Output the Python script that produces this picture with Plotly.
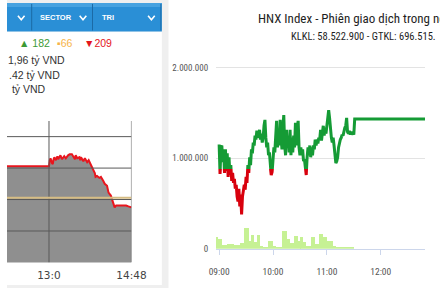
import plotly.graph_objects as go
import pandas as pd

W, H = 440, 293
DAY = "2024-01-02 "

# ---------------- left panel: VN-Index, afternoon session ----------------
vn_time = ["12:00", "13:00", "13:01", "13:02", "13:04", "13:05", "13:06", "13:07", "13:09", "13:10",
           "13:11", "13:12", "13:14", "13:15", "13:16", "13:17", "13:20", "13:22", "13:25", "13:27",
           "13:30", "13:32", "13:34", "13:35", "13:37", "13:40", "13:41", "13:42", "13:45", "13:47",
           "13:50", "13:52", "13:55", "13:57", "14:00", "14:01", "14:03", "14:06", "14:08", "14:11",
           "14:13", "14:16", "14:17", "14:18", "14:21", "14:22", "14:24", "14:26", "14:28", "14:32",
           "14:37", "14:41", "14:44", "14:48"]
vn_value = [1220.31, 1220.31, 1221.25, 1221.56, 1220.78, 1220.63, 1221.41, 1221.72, 1221.25, 1221.56,
            1221.88, 1221.41, 1221.72, 1222.03, 1221.72, 1221.41, 1221.88, 1221.56, 1222.03, 1222.19,
            1222.19, 1221.88, 1221.41, 1222.03, 1221.56, 1221.72, 1221.25, 1221.72, 1221.09, 1221.56,
            1220.94, 1221.25, 1220.47, 1219.84, 1219.22, 1218.59, 1218.75, 1218.44, 1218.59, 1217.97,
            1217.50, 1217.19, 1216.72, 1216.09, 1215.63, 1215.16, 1214.53, 1213.75, 1214.06, 1214.06,
            1214.06, 1214.06, 1213.91, 1213.75]
vn_reference = 1215.3
vn_grid_values = [1205, 1210, 1215, 1220, 1225]
vn_tick_times = ["13:00", "14:48"]
vn_tick_labels = ["13:0", "14:48"]
vn_x_range = [-55, 108]          # minutes from 13:00
vn_y_range = [1205, 1227.5]

menu_labels = ["SECTOR", "TRI"]
advances, unchanged, declines = 182, 66, 209
value_lines = ["1,96 tỷ VND", ".42 tỷ VND", " tỷ VND"]

# ---------------- right panel: HNX Index intraday ----------------
hnx_title = "HNX Index - Phiên giao dịch trong ngày"
hnx_subtitle = "KLKL: 58.522.900 - GTKL: 696.515."
hnx_start = "09:00"
hnx_value_k = [1152, 826, 1120, 1141, 957, 1098, 837, 1098, 859, 1054,
               793, 1011, 815, 924, 750, 837, 728, 772, 663, 707,
               576, 522, 663, 467, 598, 380, 576, 663, 707, 652,
               793, 728, 924, 837, 1011, 924, 1098, 1054, 1174, 1141,
               1250, 1207, 1304, 1228, 1250, 1315, 1207, 1272, 1174, 1228,
               1359, 1424, 1228, 1120, 1174, 1033, 1065, 902, 815, 848,
               989, 1120, 1065, 1337, 1413, 1120, 1283, 1141, 1424, 1228,
               1098, 1337, 1478, 1141, 1033, 1315, 1120, 1228, 1065, 1315,
               1033, 1228, 1065, 1250, 1120, 1391, 1141, 1337, 1413, 1120,
               1033, 1120, 1033, 1098, 967, 989, 902, 815, 1011, 1120,
               1033, 1141, 1011, 1120, 1033, 1141, 1098, 1207, 1141, 1207,
               1163, 1228, 1207, 1315, 1196, 1293, 1359, 1250, 1337, 1272,
               1391, 1424, 1533, 1446, 1315, 1228, 1174, 1228, 1141, 1011,
               946, 967, 1011, 1120, 1174, 1207, 1228, 1261, 1250, 1315,
               1337, 1359, 1446, 1293, 1272, 1304, 1261, 1293, 1261, 1283,
               1261, 1435]
hnx_last_time = "12:50"
hnx_reference_k = 880
vol_bounds = ["08:57", "08:59", "09:03", "09:09", "09:17", "09:23", "09:28", "09:33", "09:36", "09:39",
              "09:42", "09:46", "09:49", "09:54", "10:00", "10:03", "10:10", "10:16", "10:19", "10:23",
              "10:28", "10:31", "10:33", "10:37", "10:42", "10:47", "10:51", "10:56", "11:00", "11:07",
              "11:10", "11:19", "11:24", "11:30"]
vol_k = [130, 109, 36, 54, 36, 62, 228, 87, 152, 76, 152, 33, 22, 87, 33, 22, 196, 109, 65, 141,
         87, 130, 76, 33, 130, 54, 163, 130, 87, 33, 22, 18, 8]
hnx_ticks = ["09:00", "10:00", "11:00", "12:00"]
hnx_y_ticks = [0, 1000, 2000]
hnx_y_labels = ["0", "1.000.000", "2.000.000"]
hnx_x_range = ["08:56:30", "12:49:18"]
hnx_y_max = 2097.8

# ---------------- helpers ----------------
def P(x):
    return x / W

def Q(y):
    return 1 - y / H

def minutes_from_13(t):
    h, m = t.split(":")
    return int(h) * 60 + int(m) - 780

NARROW = "Liberation Sans Narrow, Arial Narrow, Roboto Condensed, DejaVu Sans Condensed, Roboto, sans-serif"
ARIAL = "Liberation Sans, Arial, sans-serif"

fig = go.Figure()

# left: VN index line with gray fill
vx = [minutes_from_13(t) for t in vn_time]
fig.add_trace(go.Scatter(x=vx, y=vn_value, mode="lines", fill="tozeroy",
                         fillcolor="#8f8f8f", line=dict(color="#e8161e", width=2),
                         xaxis="x", yaxis="y", hoverinfo="skip", showlegend=False))

# right: volume bars
vb = pd.to_datetime([DAY + t for t in vol_bounds])
centers = [vb[i] + (vb[i + 1] - vb[i]) / 2 for i in range(len(vol_k))]
widths = [(vb[i + 1] - vb[i]).total_seconds() * 1000 for i in range(len(vol_k))]
fig.add_trace(go.Bar(x=centers, y=vol_k, width=widths, marker=dict(color="#c6f194", line=dict(width=0)),
                     xaxis="x2", yaxis="y2", hoverinfo="skip", showlegend=False))

# right: HNX line, green above reference, red below (clipped by sub-axes)
ht = list(pd.date_range(DAY + hnx_start, periods=len(hnx_value_k), freq="1min"))
ht.append(pd.Timestamp(DAY + hnx_last_time))
hv = hnx_value_k + [hnx_value_k[-1]]
fig.add_trace(go.Scatter(x=ht, y=hv, mode="lines", line=dict(color="#d8000d", width=3),
                         xaxis="x2", yaxis="y4", hoverinfo="skip", showlegend=False))
fig.add_trace(go.Scatter(x=ht, y=hv, mode="lines", line=dict(color="#159b35", width=3),
                         xaxis="x2", yaxis="y3", hoverinfo="skip", showlegend=False))

# domains
r_bot, r_top = Q(253), Q(60)
ref_p = r_bot + hnx_reference_k / hnx_y_max * (r_top - r_bot)
l_bot, l_top = Q(267), Q(123)
l_right = P(131)

shapes = []
# left panel background
shapes.append(dict(type="rect", xref="paper", yref="paper", x0=0, x1=P(170), y0=0, y1=1,
                   fillcolor="#efefef", line=dict(width=0), layer="below"))
shapes.append(dict(type="rect", xref="paper", yref="paper", x0=0, x1=P(163), y0=Q(290), y1=Q(32),
                   fillcolor="#ffffff", line=dict(width=0), layer="below"))
shapes.append(dict(type="rect", xref="paper", yref="paper", x0=0, x1=P(163), y0=Q(32), y1=Q(3),
                   fillcolor="#2a8fd6", line=dict(width=0), layer="below"))
shapes.append(dict(type="rect", xref="paper", yref="paper", x0=0, x1=P(163), y0=Q(7), y1=Q(3),
                   fillcolor="#46a2e0", line=dict(width=0), layer="below"))
for sx in [26, 90, 162]:
    shapes.append(dict(type="line", xref="paper", yref="paper", x0=P(sx), x1=P(sx), y0=Q(31), y1=Q(4),
                       line=dict(color="#1b6aa6", width=1), layer="below"))
for cx in [15, 80, 152]:
    shapes.append(dict(type="path", xref="paper", yref="paper",
                       path=f"M {P(cx-3.5)},{Q(16)} L {P(cx)},{Q(20)} L {P(cx+3.5)},{Q(16)}",
                       line=dict(color="#ffffff", width=1.6), layer="above"))
# left chart grid (above the fill)
for g in vn_grid_values[1:]:
    shapes.append(dict(type="line", xref="x", yref="y", x0=vn_x_range[0], x1=vn_x_range[1], y0=g, y1=g,
                       line=dict(color="#5a5a5a", width=1), layer="above"))
for t in vn_tick_times:
    m = minutes_from_13(t)
    shapes.append(dict(type="line", xref="x", yref="y", x0=m, x1=m, y0=vn_y_range[0], y1=vn_y_range[1],
                       line=dict(color="#5a5a5a", width=1), layer="above"))
shapes.append(dict(type="line", xref="x", yref="y", x0=vn_x_range[0], x1=vn_x_range[1],
                   y0=vn_reference, y1=vn_reference, line=dict(color="#d6bd84", width=2), layer="above"))

annotations = []
def txt(x, y, s, size, color, family=ARIAL, anchor="left"):
    annotations.append(dict(x=P(x), y=Q(y), xref="paper", yref="paper", text=s, showarrow=False,
                            xanchor=anchor, yanchor="middle", font=dict(size=size, color=color, family=family)))

txt(33, 18, f"<b>{menu_labels[0]}</b>", 7.5, "#ffffff")
txt(98, 18, f"<b>{menu_labels[1]}</b>", 7.5, "#ffffff")
txt(11, 44, f"▲ {advances}", 10.5, "#3c9a34")
txt(51, 44, f"▪{unchanged}", 10.5, "#f6b44a")
txt(79, 44, f"▼{declines}", 10.5, "#e4161c")
txt(-1, 61, value_lines[0], 10.5, "#333333")
txt(0, 76, value_lines[1], 10.5, "#333333")
txt(0, 91, value_lines[2], 10.5, "#333333")
txt(262, 19, hnx_title, 13, "#1e1e1e", NARROW)
txt(297, 37, hnx_subtitle, 10.5, "#1e1e1e", NARROW)

fig.update_layout(
    width=W, height=H, margin=dict(l=0, r=0, t=0, b=0),
    paper_bgcolor="#ffffff", plot_bgcolor="rgba(0,0,0,0)",
    showlegend=False, bargap=0,
    shapes=shapes, annotations=annotations,
    xaxis=dict(domain=[0, l_right], range=vn_x_range, anchor="y",
               tickmode="array", tickvals=[minutes_from_13(t) for t in vn_tick_times], ticktext=vn_tick_labels,
               showgrid=False, zeroline=False, showline=False, ticks="outside", ticklen=3,
               tickcolor="rgba(0,0,0,0)", tickfont=dict(family="DejaVu Sans", size=10.5, color="#444444")),
    yaxis=dict(domain=[l_bot, l_top], range=vn_y_range, anchor="x", showticklabels=False,
               showgrid=False, zeroline=False, showline=False, ticks=""),
    xaxis2=dict(domain=[P(220), 1], type="date", anchor="y2",
                range=[DAY + hnx_x_range[0], DAY + hnx_x_range[1]],
                tickmode="array", tickvals=[DAY + t for t in hnx_ticks], ticktext=hnx_ticks,
                showgrid=False, zeroline=False, showline=True, linecolor="#ccd6eb", linewidth=1,
                ticks="outside", ticklen=5, tickcolor="#ccd6eb", ticklabelstandoff=9,
                tickfont=dict(family=NARROW, size=9.5, color="#555555")),
    yaxis2=dict(domain=[r_bot, r_top], range=[0, hnx_y_max], anchor="x2",
                tickmode="array", tickvals=hnx_y_ticks, ticktext=hnx_y_labels,
                showgrid=True, gridcolor="#e3e3e3", zeroline=False, showline=False,
                ticks="outside", ticklen=4, tickcolor="rgba(0,0,0,0)", ticklabelstandoff=1,
                tickfont=dict(family=NARROW, size=9, color="#555555")),
    yaxis3=dict(domain=[ref_p, r_top], range=[hnx_reference_k, hnx_y_max], anchor="x2", visible=False),
    yaxis4=dict(domain=[r_bot, ref_p], range=[0, hnx_reference_k], anchor="x2", visible=False),
)

fig.write_html("out.html")
